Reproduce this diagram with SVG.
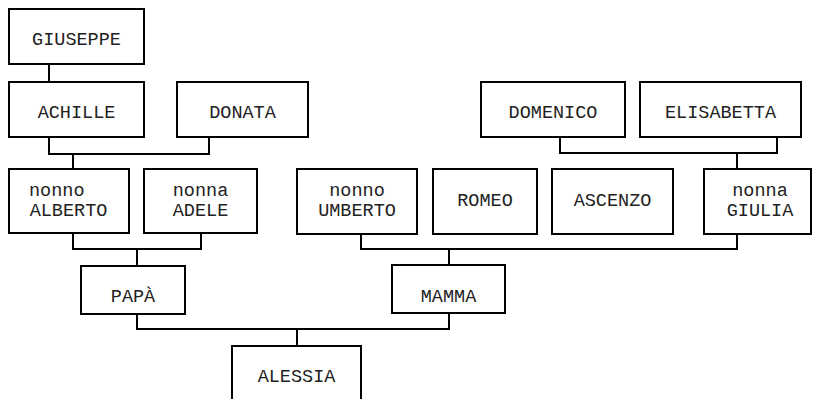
<svg xmlns="http://www.w3.org/2000/svg" width="813" height="399" viewBox="0 0 813 399">
<style>
.b{fill:#fff;stroke:#000;stroke-width:2}
.t{font-family:"Liberation Mono","Courier New",monospace;font-size:18.5px;fill:#222;text-anchor:middle}
.c{fill:none;stroke:#000;stroke-width:2}
</style>
<rect width="813" height="399" fill="#fff"/>
<g id="connectors">
<path class="c" d="M49 64V82"/>
<path class="c" d="M49 137V154H209V137M73 154V169"/>
<path class="c" d="M560 137V153H777V137M737 153V169"/>
<path class="c" d="M73 233V249H201V233M137 249V266"/>
<path class="c" d="M361 234V249H737V234M449 249V265"/>
<path class="c" d="M137 314V329H449V313M297 329V346"/>
</g>
<g id="giuseppe"><rect class="b" x="9" y="9" width="135" height="55"/><text class="t" x="76.5" y="45">GIUSEPPE</text></g>
<g id="achille"><rect class="b" x="9" y="82" width="135" height="55"/><text class="t" x="76.5" y="118">ACHILLE</text></g>
<g id="donata"><rect class="b" x="177" y="82" width="131" height="55"/><text class="t" x="242.5" y="118">DONATA</text></g>
<g id="domenico"><rect class="b" x="481" y="82" width="144" height="55"/><text class="t" x="553" y="118">DOMENICO</text></g>
<g id="elisabetta"><rect class="b" x="640" y="82" width="161" height="55"/><text class="t" x="720.5" y="118">ELISABETTA</text></g>
<g id="alberto"><rect class="b" x="9" y="169" width="120" height="64"/><text class="t" x="29" y="196" style="text-anchor:start">nonno</text><text class="t" x="68.5" y="216">ALBERTO</text></g>
<g id="adele"><rect class="b" x="144" y="169" width="113" height="64"/><text class="t" x="200.5" y="196">nonna</text><text class="t" x="200.5" y="216">ADELE</text></g>
<g id="umberto"><rect class="b" x="297" y="169" width="120" height="65"/><text class="t" x="357" y="196">nonno</text><text class="t" x="357" y="216">UMBERTO</text></g>
<g id="romeo"><rect class="b" x="433" y="169" width="104" height="65"/><text class="t" x="485" y="206">ROMEO</text></g>
<g id="ascenzo"><rect class="b" x="552" y="169" width="121" height="65"/><text class="t" x="612.5" y="206">ASCENZO</text></g>
<g id="giulia"><rect class="b" x="704" y="169" width="107" height="65"/><text class="t" x="760" y="196">nonna</text><text class="t" x="760" y="216">GIULIA</text></g>
<g id="papa"><rect class="b" x="81" y="266" width="104" height="48"/><text class="t" x="133" y="302">PAPÀ</text></g>
<g id="mamma"><rect class="b" x="392" y="265" width="113" height="48"/><text class="t" x="448.5" y="302">MAMMA</text></g>
<g id="alessia"><rect class="b" x="232" y="346" width="129" height="60"/><text class="t" x="296.5" y="382">ALESSIA</text></g>
</svg>
